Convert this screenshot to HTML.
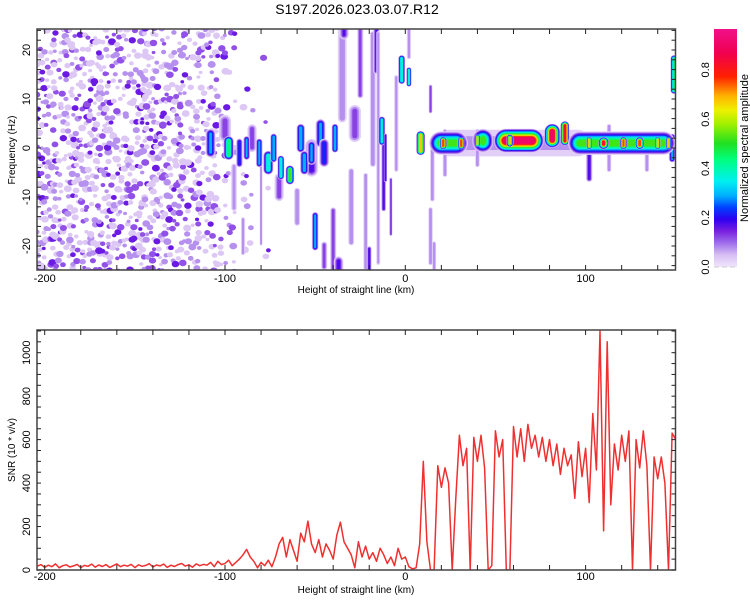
<!DOCTYPE html>
<html><head><meta charset="utf-8"><style>
html,body{margin:0;padding:0;background:#fff;}
svg{display:block;font-family:"Liberation Sans",sans-serif;}
</style></head><body>
<svg id="c" width="750" height="600" viewBox="0 0 750 600">
<defs>
<clipPath id="clipTop"><rect x="37" y="29" width="638.5" height="241"/></clipPath>
<clipPath id="clipBot"><rect x="37" y="330" width="638.5" height="240"/></clipPath>
<linearGradient id="cbar" x1="0" y1="1" x2="0" y2="0">
<stop offset="0" stop-color="#f0e6fb"/><stop offset="0.05" stop-color="#d8c0f4"/><stop offset="0.1" stop-color="#a070ec"/>
<stop offset="0.15" stop-color="#7a20e0"/><stop offset="0.2" stop-color="#3000f0"/><stop offset="0.25" stop-color="#0040ff"/>
<stop offset="0.3" stop-color="#00b0ff"/><stop offset="0.36" stop-color="#00f0f0"/><stop offset="0.45" stop-color="#00ff80"/>
<stop offset="0.52" stop-color="#20e020"/><stop offset="0.6" stop-color="#a0f000"/><stop offset="0.66" stop-color="#f0f000"/>
<stop offset="0.72" stop-color="#ffb000"/><stop offset="0.8" stop-color="#ff2000"/><stop offset="0.9" stop-color="#f00050"/>
<stop offset="1" stop-color="#f0108a"/>
</linearGradient>
</defs>
<text x="357" y="14" font-size="14" text-anchor="middle" fill="#000">S197.2026.023.03.07.R12</text>
<g id="heat" clip-path="url(#clipTop)"></g>
<g id="line" clip-path="url(#clipBot)"></g>
<g id="axes"></g>
<rect x="714" y="29" width="23" height="238" fill="url(#cbar)"/>
<g id="cbticks"></g>
<text transform="translate(748,148) rotate(-90)" font-size="11" text-anchor="middle">Normalized spectral amplitude</text>
<text transform="translate(15,150) rotate(-90)" font-size="10" text-anchor="middle">Frequency (Hz)</text>
<text transform="translate(15,450) rotate(-90)" font-size="10" text-anchor="middle">SNR (10 * v/v)</text>
<text x="356" y="293" font-size="10" text-anchor="middle">Height of straight line (km)</text>
<text x="356" y="593" font-size="10" text-anchor="middle">Height of straight line (km)</text>
</svg>
<script>
// ---- data ----
const xTickLabels = [-200, -100, 0, 100];
const hzTickLabels = [-20, -10, 0, 10, 20];
const snrTickLabels = [0, 200, 400, 600, 800, 1000];
const cbTickLabels = [0.0, 0.2, 0.4, 0.6, 0.8];
const snrStartKm = -204;
const snrStepKm = 2;
const snrVal = [18,25,12,22,15,28,10,20,24,14,19,26,11,21,17,27,13,23,16,25,12,20,28,15,22,18,26,11,24,17,21,29,14,23,19,27,12,22,16,25,30,18,24,13,28,20,26,
22,35,15,40,25,30,45,20,
35,50,70,95,60,40,
10,35,20,45,15,60,
120,150,60,140,90,40,
170,130,225,120,80,
140,60,120,90,50,
160,220,130,100,70,
10,130,60,110,50,
80,40,100,70,30,
60,20,100,50,
60,15,5,10,120,
500,130,0,0,
480,380,470,400,
0,330,620,480,560,
0,610,500,620,470,
0,20,
640,520,600,
0,0,
660,
520,650,500,670,560,620,520,610,500,600,480,580,440,560,480,530,330,590,430,560,310,720,460,1100,180,1050,300,580,460,620,500,640,
0,600,470,640,480,0,520,420,520,400,0,630,600];
// right band (km, Hz, half-width km, half-height Hz, peak amplitude)
const bandKm  = [8.5, 24, 43, 63, 81.5, 88.5, 98, 120, 149];
const bandHz  = [1, 1, 1.5, 1.5, 2.5, 3, 1, 1, 15];
const bandW   = [2.5, 11, 6, 14, 4.5, 2.5, 5, 30, 2];
const bandH   = [2.5, 2.5, 2.5, 2.5, 2.5, 2.5, 2.5, 2.5, 4];
const bandAmp = [0.75, 0.55, 0.55, 0.95, 0.95, 0.9, 0.6, 0.55, 0.5];
// hot spots on the band
const spotKm  = [21, 31, 40, 58, 102, 110, 121, 130, 140, 146];
const spotHz  = [1, 1, 1.5, 1.5, 1, 1, 1, 1, 1, 1];
const spotW   = [2, 2, 1.5, 2, 1.5, 3, 2, 2.5, 1.5, 1.5];
const spotAmp = [0.85, 0.85, 0.7, 0.7, 0.75, 0.9, 0.8, 0.85, 0.75, 0.7];
// left descending track
const trackKm  = [-108,-98,-92,-88,-81,-76,-73,-69,-64,-58,-56,-52,-47,-45,-39,-13,-11,-2,2,148];
const trackHz  = [1,0,-1,0,-1,-3,0,-4,-5.5,2,-3,-1,3,-1,2,3.5,-2,16,14.5,0];
const trackW   = [3,3,2,2,2,3,2,2,2.5,2.5,2.5,2.5,3,3,2,2,1,2,1.5,2];
const trackH   = [3,2.5,3,2.5,3,2.5,3,2.5,2,3,2.5,2.5,3,3,3,3,5,3,2,3];
const trackAmp = [0.3,0.5,0.25,0.3,0.3,0.45,0.35,0.45,0.55,0.35,0.35,0.3,0.3,0.25,0.35,0.4,0.2,0.45,0.45,0.3];
// faint streaks
const faintKm  = [-95,-90,-80,-60,-50,-45,-40,-37,-35,-34,-30,-25,-22,-20,-18,-16,-12,-5,2,14,14,15,16,-28,-52,-70,-85,60,-100,-15,-8,40,22,102,113,134];
const faintHz  = [-8,-18,-10,-12,-17,-22,-20,-24,15,24,-12,18,-15,-23,10,20,-5,5,22,-18,10,-5,-22,5,-2,-8,2,1,4,0,-12,0,-1,-3,0,-1];
const faintW   = [2,1.5,1,2,2,2,2,3,3,3,2,2,1.5,1.5,2,2,1.5,1.5,1.5,1.5,1.2,1.5,1.3,4,4,3,3,45,4,1.5,1,1.5,1.5,2,1.5,1.5];
const faintH   = [5,4,10,4,4,3,8,2,10,2,8,8,10,3,14,5,8,10,4,6,3,6,3,4,4,3,3,3.5,3,24,6,4,5,4,5,4];
const faintAmp = [0.1,0.1,0.08,0.12,0.3,0.15,0.15,0.2,0.12,0.18,0.12,0.15,0.12,0.2,0.12,0.2,0.2,0.1,0.1,0.12,0.15,0.12,0.12,0.15,0.2,0.15,0.15,0.1,0.15,0.08,0.15,0.12,0.12,0.2,0.12,0.12];
// speckle noise density per 10 km bin
const noiseBinKm = [-204,-194,-184,-174,-164,-154,-144,-134,-124,-114,-104,-94,-84];
const noiseDensity = [0.6,0.6,0.6,0.6,0.6,0.6,0.6,0.6,0.55,0.5,0.3,0.06,0.03];

// ---- scales ----
const NS='http://www.w3.org/2000/svg';
const xS = km => 405.3 + km*1.803;
const yHz = hz => 148 - hz*4.9;
const ySnr = v => 570 - v*0.2173;
const stops=[[0,[240,230,251]],[0.05,[216,192,244]],[0.1,[160,112,236]],[0.15,[122,32,224]],[0.2,[48,0,240]],[0.25,[0,64,255]],[0.3,[0,176,255]],[0.36,[0,240,240]],[0.45,[0,255,128]],[0.52,[32,224,32]],[0.6,[160,240,0]],[0.66,[240,240,0]],[0.72,[255,176,0]],[0.8,[255,32,0]],[0.9,[240,0,80]],[1,[240,16,138]]];
function cmap(v){v=Math.max(0,Math.min(1,v));for(let i=1;i<stops.length;i++){if(v<=stops[i][0]){const a=stops[i-1],b=stops[i],t=(v-a[0])/(b[0]-a[0]);const c=a[1].map((q,j)=>Math.round(q+(b[1][j]-q)*t));return `rgb(${c[0]},${c[1]},${c[2]})`;}}return 'rgb(240,16,138)';}
function mk(tag,attrs,parent){const e=document.createElementNS(NS,tag);for(const k in attrs)e.setAttribute(k,attrs[k]);parent.appendChild(e);return e;}
const heat=document.getElementById('heat');
const levels=[0.03,0.08,0.13,0.18,0.23,0.3,0.38,0.46,0.54,0.62,0.7,0.78,0.86,0.94];
function blob(km,hz,w,h,amp,name){
  const g=mk('g',{},heat);
  
  
  const cx=xS(km),cy=yHz(hz),wp=w*1.803,hp=h*4.9,base=Math.min(wp,hp);
  levels.forEach(L=>{ if(L>amp+0.001) return;
    const s=(L/amp)*0.75*base;
    const ww=Math.max(1,wp-s),hh=Math.max(1,hp-s);
    mk('rect',{x:cx-ww,y:cy-hh,width:2*ww,height:2*hh,rx:Math.min(ww,hh),ry:Math.min(ww,hh),fill:cmap(L)},g);
  });
}
// speckle noise
function hash(a,b){let h=Math.sin(a*127.1+b*311.7)*43758.5453;return h-Math.floor(h);}
const noiseG=mk('g',{},heat);


noiseBinKm.forEach((k0,bi)=>{
  const d=noiseDensity[bi];
  for(let kk=k0;kk<k0+10;kk+=2.2){
    for(let hz=-25;hz<25;hz+=1.5){
      const r=hash(kk,hz);
      if(r>d) continue;
      const jx=hash(hz,kk)*2-1, jy=hash(kk+1,hz+2)*2-1;
      const lv=hash(kk+3,hz-5);
      const amp=lv<0.45?0.04:(lv<0.72?0.08:(lv<0.9?0.12:0.16));
      const sz=0.7+hash(kk-7,hz+9)*0.8;
      mk('ellipse',{cx:xS(kk+jx*1.0),cy:yHz(hz+jy*0.6),rx:2.7*sz,ry:2.3*sz,fill:cmap(amp)},noiseG);
    }
  }
});
faintKm.forEach((k,i)=>blob(k,faintHz[i],faintW[i],faintH[i],faintAmp[i],'faint-streak'));
trackKm.forEach((k,i)=>blob(k,trackHz[i],trackW[i],trackH[i],trackAmp[i],'track-blob'));
bandKm.forEach((k,i)=>blob(k,bandHz[i],bandW[i],bandH[i],bandAmp[i],'band-segment'));
spotKm.forEach((k,i)=>blob(k,spotHz[i],spotW[i],1.3,spotAmp[i],'band-hotspot'));

// SNR line
const pts=snrVal.map((v,i)=>xS(snrStartKm+i*snrStepKm).toFixed(1)+','+ySnr(v).toFixed(1)).join(' ');
const pl=mk('polyline',{points:pts,fill:'none',stroke:'#f03030','stroke-width':1.5,'stroke-linejoin':'round'},document.getElementById('line'));



// axes
const ax=document.getElementById('axes');
function frame(y0,y1,name){
  const r=mk('rect',{x:37,y:y0,width:638.5,height:y1-y0,fill:'none',stroke:'#444','stroke-width':1.5},ax);
  
  
  for(let km=-200;km<=140;km+=20){const x=xS(km);
    mk('line',{x1:x,y1:y1,x2:x,y2:y1-5,stroke:'#222'},ax);
    mk('line',{x1:x,y1:y0,x2:x,y2:y0+5,stroke:'#222'},ax);}
}
frame(29,270,'top-plot-frame');
frame(330,570,'bottom-plot-frame');
for(let hz=-24;hz<=24;hz+=2){const y=yHz(hz);
  mk('line',{x1:37,y1:y,x2:41,y2:y,stroke:'#222'},ax);mk('line',{x1:675.5,y1:y,x2:671.5,y2:y,stroke:'#222'},ax);}
for(let v=0;v<=1100;v+=50){const y=ySnr(v);
  mk('line',{x1:37,y1:y,x2:41,y2:y,stroke:'#222'},ax);mk('line',{x1:675.5,y1:y,x2:671.5,y2:y,stroke:'#222'},ax);}
xTickLabels.forEach(k=>{[282,580].forEach(y=>{
  const t=mk('text',{x:xS(k),y:y,'font-size':11,'text-anchor':'middle'},ax);t.textContent=k;
  
  });});
hzTickLabels.forEach(h=>{
  const t=mk('text',{transform:`translate(30,${yHz(h)}) rotate(-90)`,'font-size':11,'text-anchor':'middle'},ax);t.textContent=h;
  
  });
snrTickLabels.forEach(v=>{
  const t=mk('text',{transform:`translate(30,${ySnr(v)}) rotate(-90)`,'font-size':11,'text-anchor':'middle'},ax);t.textContent=v;
  
  });
const cb=document.getElementById('cbticks');
cbTickLabels.forEach(v=>{const y=267-v*246.5;
  const t=mk('text',{transform:`translate(709,${y}) rotate(-90)`,'font-size':11,'text-anchor':'middle'},cb);t.textContent=v.toFixed(1);
  
  });
mk('line',{x1:714,y1:267,x2:737,y2:267,stroke:'#ccc','stroke-dasharray':'5,3'},cb);
</script>
</body></html>
